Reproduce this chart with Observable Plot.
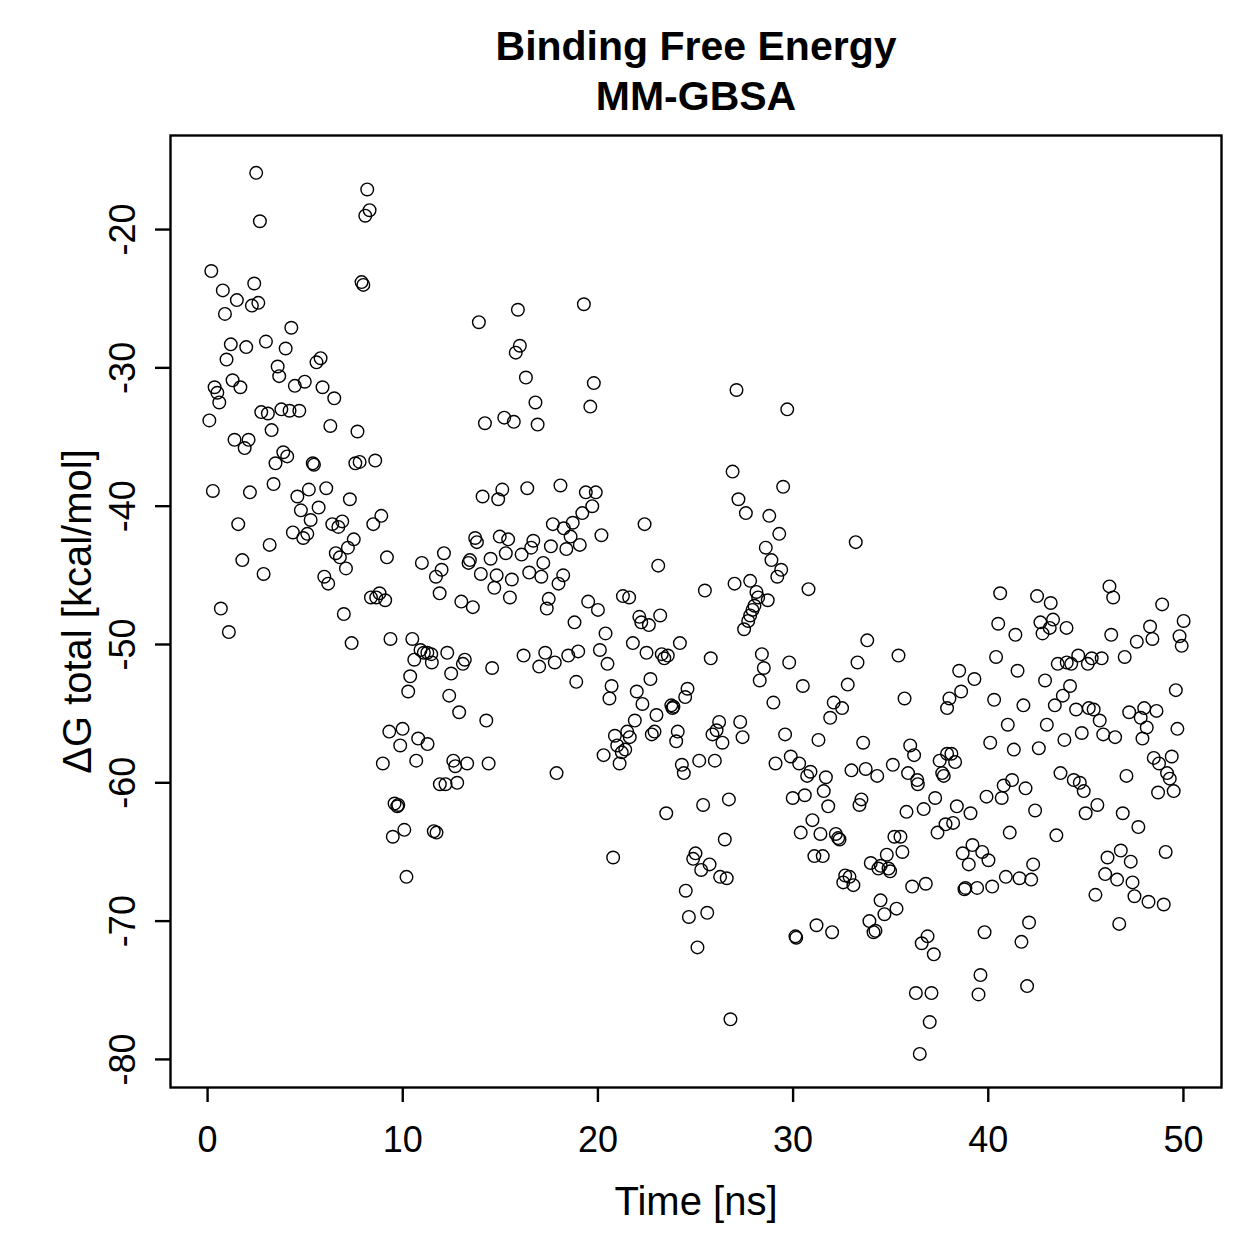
<!DOCTYPE html>
<html><head><meta charset="utf-8">
<script src="https://cdn.jsdelivr.net/npm/d3@7"></script>
<script src="https://cdn.jsdelivr.net/npm/@observablehq/plot@0.6"></script>
<style>
html,body{margin:0;padding:0;background:#fff;}
#chart svg g[aria-label$="-axis tick"], #chart svg g[aria-label$="-axis tick"] path {stroke-width:2.4px;}
</style></head><body><div id="chart"></div>
<script>
const timeNs = [
2.49,8.18,8.30,8.08,2.68,0.19,0.78,2.39,1.50,2.27,
2.60,0.89,7.89,7.98,4.29,1.19,1.98,2.99,4.00,0.97,
3.59,3.67,5.58,5.79,1.28,1.68,0.36,0.50,0.60,4.47,
4.98,5.89,6.49,2.75,3.09,3.78,4.20,4.70,0.09,3.28,
6.29,7.68,1.38,2.10,1.90,3.88,4.08,3.48,5.39,5.45,
7.57,7.79,8.59,0.27,2.17,3.38,4.60,5.19,6.08,4.78,
5.69,5.28,7.29,1.57,4.37,4.90,5.11,6.39,6.70,6.90,
8.49,8.90,3.18,7.49,7.19,6.57,6.78,7.09,1.78,2.87,
9.19,10.98,5.98,6.18,8.37,8.64,8.81,9.10,0.68,1.09,
6.98,7.38,9.37,10.49,10.91,11.08,11.26,11.46,10.59,11.49,
10.38,10.28,9.31,9.99,9.87,10.79,11.27,8.98,10.69,9.58,
9.72,9.77,10.08,9.49,11.59,11.73,10.19,11.90,14.09,15.10,
14.89,16.38,18.08,19.38,19.89,19.71,19.20,18.71,18.25,17.69,
22.39,20.18,18.60,19.07,18.38,17.59,13.71,13.80,14.97,15.40,
16.69,16.58,16.09,15.28,14.50,12.11,13.44,13.37,11.99,11.70,
14.00,14.81,14.69,15.59,15.49,16.48,17.20,17.10,18.22,17.98,
23.09,11.89,13.00,13.59,17.48,17.38,19.50,20.00,21.28,21.60,
18.80,22.12,22.22,22.61,23.19,20.39,21.79,24.20,22.49,23.27,
23.40,23.58,12.28,13.18,13.08,12.48,14.58,16.19,17.30,16.99,
17.79,18.48,18.99,20.10,20.49,18.89,20.70,20.59,21.99,22.69,
24.59,24.47,23.76,23.82,23.87,22.28,21.89,23.00,12.38,12.89,
14.28,20.87,21.50,21.63,20.99,21.22,21.40,21.11,20.29,22.76,
22.90,24.09,24.01,24.30,24.40,12.59,12.69,13.30,14.40,17.88,
12.19,12.79,23.50,20.78,24.50,24.66,13.90,15.90,19.28,16.00,
15.79,16.31,19.79,16.80,19.61,14.21,15.20,15.69,16.91,27.10,
29.70,26.90,29.49,27.20,27.58,28.78,29.29,33.21,28.60,28.89,
29.39,29.19,25.48,27.00,27.80,28.12,28.21,28.70,28.02,27.92,
27.80,27.70,27.49,30.79,33.80,25.78,28.40,28.50,28.29,29.80,
33.30,35.40,30.50,32.80,28.99,32.08,32.51,31.90,35.71,26.21,
26.08,25.87,26.38,27.29,27.41,29.59,31.30,33.59,36.00,36.20,
25.19,25.99,29.10,29.88,30.31,30.89,30.72,31.68,32.99,33.72,
34.31,35.11,35.89,36.36,37.51,37.89,37.64,37.72,25.39,26.71,
26.50,25.00,24.88,25.72,25.29,26.26,26.60,25.60,25.10,26.79,
29.98,30.60,31.57,31.80,33.50,33.40,36.39,37.28,36.69,35.81,
30.99,30.39,31.40,32.19,32.31,32.38,35.19,35.50,35.60,37.40,
37.81,31.09,31.52,33.98,34.80,34.49,34.37,34.89,34.97,32.67,
32.89,32.57,33.09,36.10,36.80,34.48,35.30,34.68,33.91,34.12,
34.22,31.20,32.00,30.12,30.16,36.89,36.59,37.21,36.29,37.09,
37.00,36.49,46.21,46.40,40.61,42.50,43.20,48.91,40.51,41.39,
42.67,43.32,43.15,42.78,44.01,46.30,47.61,48.29,48.41,50.01,
49.80,49.91,40.40,41.50,43.56,44.02,44.25,44.61,45.10,45.30,
45.81,46.99,38.51,39.29,42.91,38.61,38.01,37.89,44.19,43.82,
43.41,49.61,40.30,41.80,44.50,45.15,45.40,45.71,47.22,47.99,
48.62,47.81,48.12,47.90,41.00,43.00,44.79,45.89,46.50,43.90,
49.69,40.10,41.31,42.59,38.11,38.30,48.48,48.75,49.40,43.70,
47.08,49.16,49.30,41.22,44.38,44.69,44.89,45.59,44.99,48.70,
49.50,46.89,47.69,40.79,40.69,41.91,39.91,42.40,38.39,39.09,
38.20,41.10,43.49,39.19,38.69,39.69,40.01,39.00,42.30,40.90,
41.60,42.20,40.20,38.83,38.78,39.43,46.79,46.11,47.30,49.09,
45.99,46.60,47.39,45.49,47.49,48.21,48.99,46.71,42.09,39.81,
41.70,39.60,39.50,41.99
];
const deltaG = [
-15.9,-17.1,-18.6,-19.0,-19.4,-23.0,-24.4,-23.9,-25.1,-25.5,
-25.3,-26.1,-23.8,-24.0,-27.1,-28.3,-28.5,-28.1,-28.6,-29.4,
-29.9,-30.6,-29.6,-29.3,-30.9,-31.4,-31.4,-31.8,-32.5,-31.3,
-31.0,-31.4,-32.2,-33.2,-33.3,-33.0,-33.1,-33.1,-33.8,-34.5,
-34.2,-34.6,-35.2,-35.2,-35.8,-36.1,-36.4,-36.9,-36.9,-37.0,
-36.9,-36.8,-36.7,-38.9,-39.0,-38.4,-39.3,-38.8,-38.7,-40.3,
-40.1,-41.0,-39.5,-41.3,-41.9,-42.3,-42.0,-41.3,-41.5,-41.1,
-41.3,-40.7,-42.8,-42.4,-43.0,-43.4,-43.7,-44.5,-43.9,-44.9,
-43.7,-44.1,-45.1,-45.6,-46.6,-46.6,-46.3,-46.8,-47.4,-49.1,
-47.8,-49.9,-49.6,-49.6,-50.4,-50.6,-50.6,-50.7,-51.1,-51.3,
-52.3,-53.4,-56.3,-56.1,-57.3,-56.8,-57.2,-58.6,-58.4,-61.5,
-61.7,-61.6,-63.4,-63.9,-63.5,-63.6,-66.8,-60.1,-39.3,-38.8,
-39.5,-38.7,-38.5,-39.0,-39.0,-40.0,-40.5,-41.2,-41.6,-41.3,
-41.3,-42.1,-42.2,-42.8,-43.1,-42.9,-42.3,-42.6,-42.2,-42.4,
-42.5,-43.0,-43.5,-43.4,-43.8,-43.4,-43.9,-44.1,-44.6,-45.1,
-44.9,-45.0,-45.9,-45.3,-46.6,-44.8,-44.1,-45.1,-45.0,-45.6,
-44.3,-46.3,-46.9,-47.3,-46.7,-47.4,-46.9,-47.5,-46.5,-46.6,
-48.4,-48.0,-48.4,-48.6,-47.9,-49.2,-49.9,-49.9,-50.6,-50.7,
-51.0,-50.8,-50.6,-51.1,-51.4,-52.1,-51.7,-50.8,-50.6,-51.6,
-51.3,-50.8,-50.5,-50.4,-51.4,-52.7,-53.0,-53.9,-53.4,-52.5,
-53.2,-53.8,-54.4,-54.6,-54.5,-54.3,-55.5,-55.1,-53.7,-54.9,
-55.5,-56.6,-56.3,-56.7,-57.3,-57.8,-57.6,-58.6,-58.0,-56.5,
-56.3,-56.3,-57.0,-58.7,-59.3,-58.4,-58.8,-58.6,-58.6,-59.3,
-60.1,-60.0,-62.2,-65.4,-67.8,-69.7,-26.7,-25.8,-25.4,-28.4,
-28.9,-30.7,-31.1,-32.5,-32.8,-34.0,-33.6,-33.9,-34.1,-31.6,
-33.0,-37.5,-38.6,-39.5,-40.5,-40.7,-42.0,-42.6,-43.0,-43.9,
-44.6,-45.1,-46.1,-45.6,-45.4,-46.2,-46.6,-46.8,-47.2,-47.5,
-47.9,-48.3,-48.9,-46.0,-49.7,-51.0,-50.7,-51.7,-52.6,-51.3,
-51.3,-50.8,-53.0,-52.9,-54.2,-54.2,-54.6,-55.3,-53.9,-55.6,
-56.2,-56.5,-57.1,-55.6,-56.7,-56.5,-56.9,-57.1,-57.3,-58.0,
-58.4,-58.4,-58.6,-58.1,-58.6,-59.2,-59.5,-59.6,-59.1,-59.0,
-59.5,-58.7,-59.3,-59.8,-58.4,-57.9,-59.3,-59.5,-61.6,-61.2,
-64.1,-65.1,-65.5,-65.9,-66.3,-66.8,-66.9,-69.4,-71.9,-77.1,
-61.1,-60.9,-60.6,-61.7,-61.2,-61.6,-60.1,-61.1,-61.9,-62.1,
-62.7,-63.6,-63.7,-63.7,-64.0,-64.1,-63.9,-63.9,-65.0,-63.6,
-63.0,-65.3,-65.3,-65.8,-65.2,-66.0,-66.2,-66.2,-66.4,-66.7,
-66.8,-67.2,-67.4,-67.5,-67.3,-68.5,-69.1,-69.5,-70.0,-70.8,
-70.7,-70.3,-70.8,-71.1,-71.2,-71.1,-71.6,-72.4,-75.2,-75.2,
-77.3,-79.6,-45.8,-46.6,-46.3,-46.5,-47.0,-47.1,-48.5,-49.3,
-48.4,-48.2,-48.8,-49.2,-48.8,-49.3,-49.8,-48.7,-49.6,-48.3,
-49.4,-50.1,-50.9,-51.9,-51.4,-51.3,-51.4,-50.8,-51.4,-51.0,
-51.0,-50.9,-51.9,-52.5,-52.6,-53.4,-53.9,-54.6,-53.0,-53.7,
-54.4,-53.3,-54.0,-54.4,-54.7,-54.6,-54.7,-55.5,-54.9,-54.6,
-54.8,-55.3,-56.0,-56.8,-55.8,-55.8,-56.4,-56.5,-56.7,-56.9,
-56.1,-57.1,-57.6,-57.5,-57.9,-58.5,-58.2,-58.6,-58.1,-59.3,
-59.5,-59.3,-59.7,-59.8,-59.8,-60.0,-60.6,-61.6,-62.2,-60.7,
-60.6,-62.2,-63.2,-60.2,-61.1,-60.4,-61.0,-62.0,-61.7,-62.2,
-62.9,-63.6,-63.8,-64.5,-65.1,-65.0,-65.6,-65.9,-65.9,-66.8,
-66.9,-67.0,-67.5,-67.6,-67.7,-67.6,-64.9,-65.4,-65.7,-65.0,
-66.6,-67.0,-67.2,-68.1,-68.2,-68.6,-68.8,-70.2,-70.1,-70.8,
-71.5,-73.9,-75.3,-74.7
];
const xTicks = [0, 10, 20, 30, 40, 50];
const yTicks = [-80, -70, -60, -50, -40, -30, -20];
const titleLines = ["Binding Free Energy", "MM-GBSA"];
const xLabel = "Time [ns]";
const yLabel = "\u0394G total [kcal/mol]";

const points = timeNs.map((t, i) => ({t, g: deltaG[i]}));
const font = "'Liberation Sans', Arial, Helvetica, sans-serif";

const chart = Plot.plot({
  width: 1259, height: 1259,
  marginLeft: 170, marginRight: 38, marginTop: 135, marginBottom: 172,
  style: {fontFamily: font, background: "#fff", color: "#000"},
  x: {domain: [-1.9, 51.95], ticks: xTicks, tickSize: 15, tickFormat: () => "", label: null},
  y: {domain: [-82.03, -13.2], ticks: yTicks, tickSize: 15, tickFormat: () => "", label: null},
  marks: [
    Plot.frame({stroke: "#000", strokeWidth: 2.4}),
    Plot.dot(points, {x: "t", y: "g", r: 6.3, stroke: "#000", strokeWidth: 1.4, fill: "none"}),
    Plot.text(xTicks, {x: d => d, frameAnchor: "bottom", dy: 53, text: d => String(d), fontSize: 36, textAnchor: "middle", lineAnchor: "middle", fill: "#000"}),
    Plot.text(yTicks, {y: d => d, frameAnchor: "left", dx: -47, rotate: -90, text: d => String(d), fontSize: 36, textAnchor: "middle", lineAnchor: "middle", fill: "#000"}),
    Plot.text([xLabel], {frameAnchor: "bottom", dy: 115, fontSize: 40, textAnchor: "middle", lineAnchor: "middle", fill: "#000"}),
    Plot.text([yLabel], {frameAnchor: "left", dx: -92, rotate: -90, fontSize: 40, textAnchor: "middle", lineAnchor: "middle", fill: "#000"}),
    Plot.text([titleLines[0]], {frameAnchor: "top", dy: -89, fontSize: 41, fontWeight: "bold", textAnchor: "middle", lineAnchor: "middle", fill: "#000"}),
    Plot.text([titleLines[1]], {frameAnchor: "top", dy: -39, fontSize: 41, fontWeight: "bold", textAnchor: "middle", lineAnchor: "middle", fill: "#000"})
  ]
});
document.getElementById("chart").appendChild(chart);
</script></body></html>
